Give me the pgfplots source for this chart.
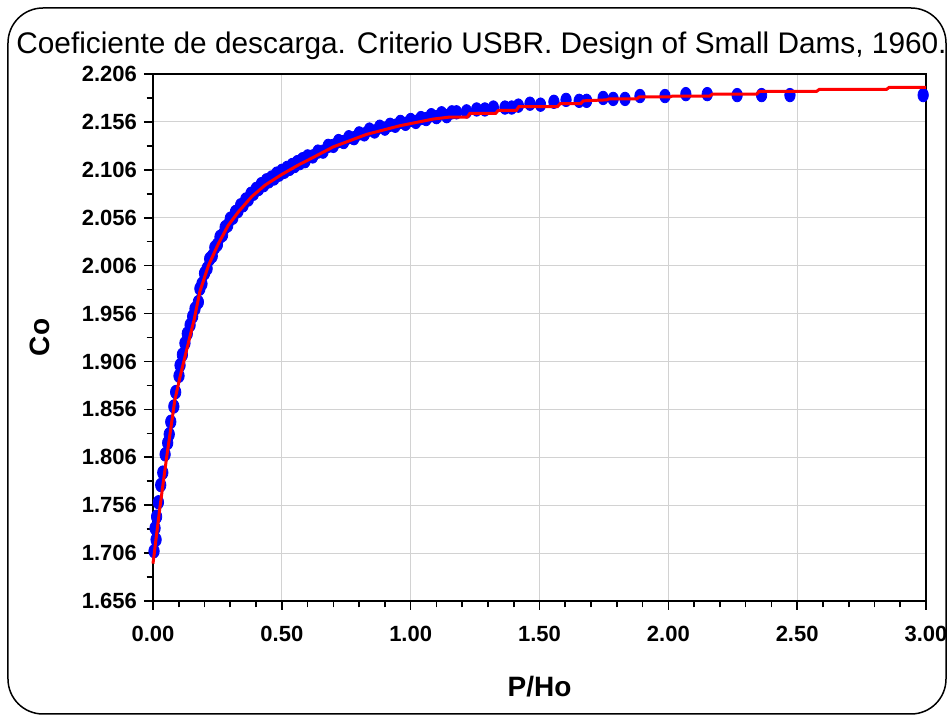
\documentclass[border=0pt]{standalone}
\usepackage{fontspec}
\setmainfont{Liberation Sans}
\usepackage{pgfplots}
\pgfplotsset{compat=1.18}
\begin{document}
\begin{tikzpicture}
\begin{axis}[
  at={(0pt,0pt)}, anchor=south west,
  scale only axis, width=386.5pt, height=263.5pt,
  xmin=0, xmax=3, ymin=1.656, ymax=2.206,
  xtick={0,0.5,1,1.5,2,2.5,3},
  ytick={1.656,1.706,1.756,1.806,1.856,1.906,1.956,2.006,2.056,2.106,2.156,2.206},
  minor x tick num=4, minor y tick num=1,
  tick align=outside, tick pos=left,
  major tick length=4.5pt, minor tick length=3.2pt,
  every tick/.style={black, line width=0.8pt},
  axis line style={line width=0.9pt},
  grid=major, major grid style={gray!35, line width=0.5pt},
  clip=false, clip marker paths=true,
  /pgf/number format/assume math mode=true,
  tick label style={font=\fontsize{11}{13}\selectfont\bfseries},
  x tick label style={yshift=-4.5pt, /pgf/number format/.cd, fixed, fixed zerofill, precision=2, /tikz/.cd},
  y tick label style={/pgf/number format/.cd, fixed, fixed zerofill, precision=3, /tikz/.cd},
  xlabel={P/Ho},
  xlabel style={at={(axis description cs:0.5,-0.163)}, anchor=center, font=\fontsize{14}{16}\selectfont\bfseries},
  ylabel={Co},
  ylabel style={at={(axis description cs:-0.146,0.5)}, anchor=center, font=\fontsize{14}{16}\selectfont\bfseries},
]
\addplot[only marks, mark=*, color=blue, mark size=2.6pt, mark options={yscale=1.3, draw=blue, fill=blue}] coordinates {
(0.004,1.708) (0.008,1.732) (0.012,1.720) (0.014,1.744) (0.021,1.759)
(0.030,1.777) (0.038,1.790) (0.047,1.809) (0.057,1.821) (0.063,1.830)
(0.069,1.843) (0.081,1.859) (0.088,1.874) (0.101,1.891) (0.105,1.902)
(0.114,1.913) (0.124,1.925) (0.133,1.935) (0.144,1.944) (0.154,1.953)
(0.163,1.961) (0.176,1.968) (0.182,1.982)
(0.19,1.987) (0.20,1.998) (0.21,2.003) (0.22,2.013) (0.23,2.016)
(0.24,2.025) (0.25,2.028) (0.26,2.036) (0.27,2.038) (0.28,2.046)
(0.29,2.048) (0.30,2.055) (0.31,2.056) (0.32,2.062) (0.33,2.063)
(0.34,2.069) (0.35,2.069) (0.36,2.075) (0.37,2.075) (0.38,2.081)
(0.39,2.081) (0.40,2.086) (0.41,2.086) (0.42,2.091) (0.43,2.090)
(0.44,2.095) (0.45,2.094) (0.46,2.098) (0.47,2.097) (0.48,2.102)
(0.49,2.101) (0.50,2.105) (0.51,2.104) (0.52,2.108) (0.53,2.107)
(0.54,2.111) (0.55,2.110) (0.56,2.114) (0.57,2.113) (0.58,2.117)
(0.59,2.115) (0.60,2.120) (0.62,2.120) (0.64,2.125) (0.66,2.125)
(0.68,2.131) (0.70,2.131) (0.72,2.136) (0.74,2.135) (0.76,2.140)
(0.78,2.139) (0.80,2.144) (0.82,2.143) (0.84,2.148) (0.86,2.146)
(0.88,2.151) (0.90,2.149) (0.92,2.153) (0.94,2.152) (0.96,2.156)
(0.98,2.154) (1.00,2.158) (1.02,2.156) (1.04,2.160) (1.06,2.159)
(1.08,2.163) (1.10,2.161) (1.12,2.165) (1.14,2.162) (1.16,2.166)
(1.178,2.166) (1.217,2.167) (1.256,2.169)
(1.288,2.169) (1.321,2.171) (1.366,2.171) (1.392,2.171) (1.418,2.173)
(1.463,2.175) (1.504,2.174) (1.556,2.177) (1.603,2.179) (1.654,2.178)
(1.683,2.178) (1.747,2.181) (1.786,2.180) (1.832,2.180) (1.890,2.183)
(1.987,2.183) (2.068,2.185) (2.151,2.185) (2.267,2.184) (2.362,2.184)
(2.472,2.184) (2.989,2.184)
};
\addplot[red, line width=1.5pt, mark=none] coordinates {
(0.000,1.695) (0.027,1.754) (0.053,1.806) (0.085,1.866) (0.105,1.890)
(0.137,1.925) (0.160,1.950) (0.182,1.979) (0.215,2.006) (0.254,2.029)
(0.292,2.048) (0.331,2.062) (0.383,2.078) (0.435,2.090) (0.499,2.101)
(0.564,2.111) (0.622,2.119) (0.700,2.130) (0.829,2.143) (0.958,2.152)
(1.088,2.159) (1.150,2.161) (1.220,2.161) (1.230,2.165) (1.330,2.165)
(1.340,2.168) (1.410,2.168) (1.420,2.172) (1.570,2.172) (1.580,2.175)
(1.660,2.175) (1.670,2.178) (1.760,2.179) (1.770,2.180) (1.877,2.180)
(1.887,2.182) (2.006,2.182) (2.016,2.183) (2.161,2.183) (2.171,2.185)
(2.343,2.185) (2.353,2.188) (2.576,2.188) (2.586,2.190) (2.847,2.190)
(2.857,2.192) (3.000,2.192)
};
\end{axis}
\draw[line width=0.75pt, rounded corners=17.5pt] (-72.5pt,-56.5pt) rectangle (396.5pt,296.5pt);
\node[anchor=base, inner sep=0pt, font=\fontsize{14.9}{17}\selectfont] at (164.25pt,273.5pt) {Coeficiente de descarga. Criterio USBR. Design of Small Dams, 1960.};
\pgfresetboundingbox
\useasboundingbox (-76.5pt,-58pt) rectangle (398pt,300.5pt);
\end{tikzpicture}
\end{document}
